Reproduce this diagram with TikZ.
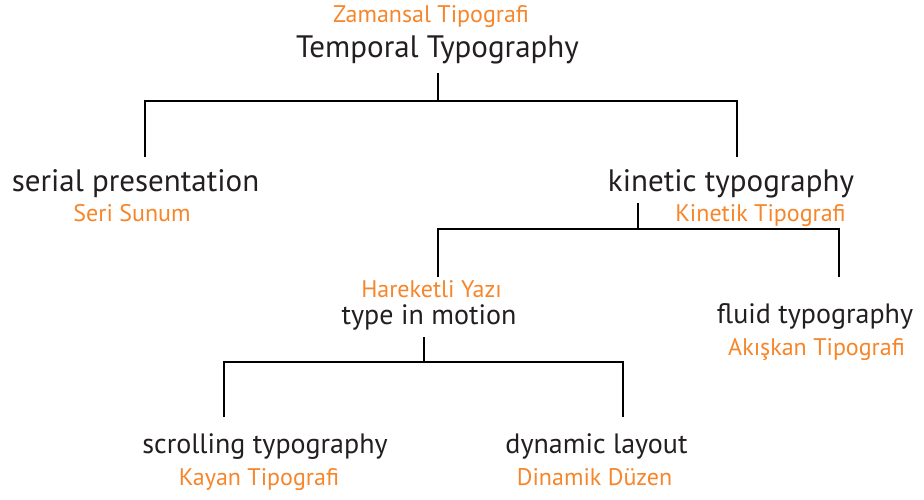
\documentclass[tikz,border=0pt]{standalone}
\usepackage{fontspec}
\setmainfont{PT Sans}
\definecolor{termorange}{RGB}{247,134,42}
\definecolor{termink}{RGB}{35,31,32}
\begin{document}
\begin{tikzpicture}[x=1pt,y=-1pt,
  term/.style={anchor=base,inner sep=0pt,text=termink,font=\fontsize{31}{34}\selectfont},
  subterm/.style={term,font=\fontsize{28}{31}\selectfont},
  trans/.style={anchor=base,inner sep=0pt,text=termorange,font=\fontsize{24}{27}\selectfont},
  branch/.style={draw=black,line width=2pt}]
\useasboundingbox[fill=white] (0,0) rectangle (924,500);

% English terms with their Turkish translations
\node[trans] (zam) at (431,23) {Zamansal Tipografi};
\node[term] (temp) at (437.5,58) {Temporal Typography};
\node[term] (serial) at (135.5,191) {serial presentation};
\node[trans] (seri) at (132,222) {Seri Sunum};
\node[term] (kinetic) at (731,192) {kinetic typography};
\node[trans] (kinetik) at (760.5,221) {Kinetik Tipografi};
\node[trans] (hareketli) at (431.5,297) {Hareketli Yazı};
\node[subterm] (motion) at (429,324) {type in motion};
\node[subterm] (fluid) at (815,323) {fluid typography};
\node[trans] (akiskan) at (816.5,355) {Akışkan Tipografi};
\node[subterm] (scrolling) at (265,453) {scrolling typography};
\node[trans] (kayan) at (259,485) {Kayan Tipografi};
\node[subterm] (dynamic) at (596.5,453) {dynamic layout};
\node[trans] (dinamik) at (594.5,485) {Dinamik Düzen};

% stem and bar points of the tree
\coordinate (tempStem) at (438,73);
\coordinate (tempBar) at (438,101);
\coordinate (serialTop) at (145,157);
\coordinate (kineticTop) at (737,157);
\coordinate (kineticStem) at (638,203);
\coordinate (kineticBar) at (638,229);
\coordinate (motionTop) at (438,277);
\coordinate (fluidTop) at (839,277);
\coordinate (motionStem) at (424,337);
\coordinate (motionBar) at (424,362);
\coordinate (scrollingTop) at (224,417);
\coordinate (dynamicTop) at (623,417);

% Temporal Typography branches
\draw[branch] (tempStem) -- (tempBar);
\draw[branch] (serialTop) |- (tempBar) -| (kineticTop);
% kinetic typography branches
\draw[branch] (kineticStem) -- (kineticBar);
\draw[branch] (motionTop) |- (kineticBar) -| (fluidTop);
% type in motion branches
\draw[branch] (motionStem) -- (motionBar);
\draw[branch] (scrollingTop) |- (motionBar) -| (dynamicTop);
\end{tikzpicture}
\end{document}
